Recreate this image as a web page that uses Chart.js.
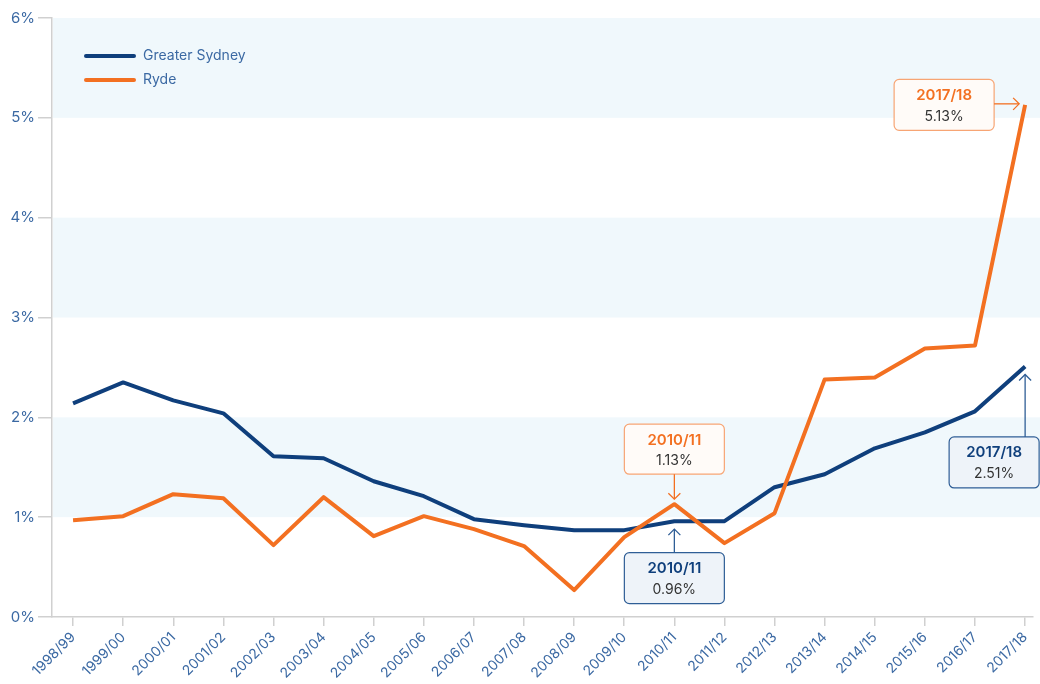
<!DOCTYPE html>
<html lang="en">
<head>
  <meta charset="UTF-8">
  <title>Greater Sydney vs Ryde</title>
  <script src="https://cdn.jsdelivr.net/npm/chart.js"></script>
  <style>
    body {
      margin: 0;
      background: #fff;
    }
    #wrap {
      width: 1040px;
      height: 684px;
    }
  </style>
</head>
<body>
  <div id="wrap"><canvas id="growthChart"></canvas></div>

  <script>
    const years = ['1998/99', '1999/00', '2000/01', '2001/02', '2002/03', '2003/04', '2004/05',
      '2005/06', '2006/07', '2007/08', '2008/09', '2009/10', '2010/11', '2011/12', '2012/13',
      '2013/14', '2014/15', '2015/16', '2016/17', '2017/18'];
    const greaterSydney = [2.14, 2.35, 2.17, 2.04, 1.61, 1.59, 1.36, 1.21, 0.98, 0.92,
      0.87, 0.87, 0.96, 0.96, 1.30, 1.43, 1.69, 1.85, 2.06, 2.51];
    const ryde = [0.97, 1.01, 1.23, 1.19, 0.72, 1.20, 0.81, 1.01, 0.88, 0.71,
      0.27, 0.80, 1.13, 0.74, 1.04, 2.38, 2.40, 2.69, 2.72, 5.13];
    const yTicks = [0, 1, 2, 3, 4, 5, 6];

    const BLUE = '#0f3f7c';
    const ORANGE = '#f37021';
    const LABEL = '#3b69a3';
    const FONT = 'Inter, "Open Sans", sans-serif';

    // callouts: which series, which year index, where the box sits relative to the point
    const callouts = [
      { series: 1, idx: 12, dx: 0, dy: -55, w: 100, h: 50, arrow: 'down' },
      { series: 0, idx: 12, dx: 0, dy: 57, w: 100, h: 51, arrow: 'up' },
      { series: 1, idx: 19, dx: -81, dy: 0, w: 100, h: 51, arrow: 'right' },
      { series: 0, idx: 19, dx: -31, dy: 96, w: 90, h: 51, arrow: 'up' }
    ];

    const toPoints = arr => arr.map((v, i) => ({ x: i, y: v }));

    const bands = {
      id: 'bands',
      beforeDraw(chart) {
        const { ctx, chartArea, scales } = chart;
        ctx.save();
        ctx.fillStyle = '#f0f8fc';
        [[5, 6], [3, 4], [1, 2]].forEach(([a, b]) => {
          const top = scales.y.getPixelForValue(b);
          const bot = scales.y.getPixelForValue(a);
          ctx.fillRect(chartArea.left + 1, top, chart.width - chartArea.left, bot - top);
        });
        ctx.restore();
      }
    };

    function arrowHead(ctx, x, y, dir) {
      const s = 6;
      ctx.beginPath();
      if (dir === 'down') { ctx.moveTo(x - s, y - s); ctx.lineTo(x, y); ctx.lineTo(x + s, y - s); }
      if (dir === 'up') { ctx.moveTo(x - s, y + s); ctx.lineTo(x, y); ctx.lineTo(x + s, y + s); }
      if (dir === 'right') { ctx.moveTo(x - s, y - s); ctx.lineTo(x, y); ctx.lineTo(x - s, y + s); }
      ctx.stroke();
    }

    function roundRect(ctx, x, y, w, h, r) {
      ctx.beginPath();
      ctx.moveTo(x + r, y);
      ctx.arcTo(x + w, y, x + w, y + h, r);
      ctx.arcTo(x + w, y + h, x, y + h, r);
      ctx.arcTo(x, y + h, x, y, r);
      ctx.arcTo(x, y, x + w, y, r);
      ctx.closePath();
    }

    const extras = {
      id: 'extras',
      afterDraw(chart) {
        const { ctx, scales } = chart;
        ctx.save();

        // legend
        ctx.lineCap = 'round';
        ctx.lineWidth = 4;
        ctx.font = '14px ' + FONT;
        ctx.textBaseline = 'middle';
        [[BLUE, 'Greater Sydney', 56], [ORANGE, 'Ryde', 80]].forEach(([c, t, y]) => {
          ctx.strokeStyle = c;
          ctx.beginPath();
          ctx.moveTo(86, y);
          ctx.lineTo(134, y);
          ctx.stroke();
          ctx.fillStyle = LABEL;
          ctx.fillText(t, 143, y);
        });

        // callouts
        ctx.lineCap = 'butt';
        callouts.forEach(c => {
          const data = c.series === 0 ? greaterSydney : ryde;
          const col = c.series === 0 ? BLUE : ORANGE;
          const px = scales.x.getPixelForValue(c.idx);
          const py = scales.y.getPixelForValue(data[c.idx]);
          const cx = px + c.dx;
          const cy = py + c.dy;
          const bx = cx - c.w / 2;
          const by = cy - c.h / 2;

          ctx.lineWidth = 1.2;
          ctx.strokeStyle = c.series === 0 ? '#2f5e96' : '#f7a574';
          ctx.fillStyle = c.series === 0 ? '#eef3f9' : '#fffbf8';
          roundRect(ctx, bx, by, c.w, c.h, 5);
          ctx.fill();
          ctx.stroke();

          ctx.textAlign = 'center';
          ctx.fillStyle = col;
          ctx.font = '600 15px ' + FONT;
          ctx.fillText(years[c.idx], cx, by + 16);
          ctx.fillStyle = '#333';
          ctx.font = '14px ' + FONT;
          ctx.fillText(data[c.idx].toFixed(2) + '%', cx, by + 37);

          ctx.strokeStyle = c.series === 0 ? '#2f5e96' : ORANGE;
          ctx.lineWidth = 1.3;
          ctx.beginPath();
          if (c.arrow === 'down') {
            ctx.moveTo(px, by + c.h); ctx.lineTo(px, py - 5); ctx.stroke();
            arrowHead(ctx, px, py - 5, 'down');
          } else if (c.arrow === 'up') {
            ctx.moveTo(px, by); ctx.lineTo(px, py + 8); ctx.stroke();
            arrowHead(ctx, px, py + 8, 'up');
          } else {
            ctx.moveTo(bx + c.w, py - 1); ctx.lineTo(px - 6, py - 1); ctx.stroke();
            arrowHead(ctx, px - 6, py - 1, 'right');
          }
        });
        ctx.restore();
      }
    };

    new Chart(document.getElementById('growthChart'), {
      type: 'line',
      data: {
        datasets: [
          {
            label: 'Greater Sydney',
            data: toPoints(greaterSydney),
            borderColor: BLUE,
            borderWidth: 4,
            pointRadius: 0,
            borderJoinStyle: 'round',
            order: 1
          },
          {
            label: 'Ryde',
            data: toPoints(ryde),
            borderColor: ORANGE,
            borderWidth: 4,
            pointRadius: 0,
            borderJoinStyle: 'round',
            order: 0
          }
        ]
      },
      options: {
        responsive: true,
        maintainAspectRatio: false,
        animation: false,
        layout: { padding: { top: 18, right: 0, left: 0, bottom: 0 } },
        plugins: {
          legend: { display: false },
          tooltip: { enabled: false }
        },
        scales: {
          x: {
            type: 'linear',
            min: -0.42,
            max: 19.16,
            afterFit: s => { s.height = 67; },
            border: { color: '#d0d0d0', width: 1.5 },
            grid: { drawOnChartArea: false, tickLength: 9, color: '#d0d0d0', lineWidth: 1.5 },
            ticks: {
              stepSize: 1,
              includeBounds: false,
              autoSkip: false,
              maxTicksLimit: 40,
              minRotation: 45,
              maxRotation: 45,
              padding: 3,
              color: LABEL,
              font: { family: FONT, size: 14 },
              callback: v => years[v] ?? ''
            }
          },
          y: {
            min: yTicks[0],
            max: yTicks[yTicks.length - 1],
            afterFit: s => { s.width = 52; },
            border: { color: '#d0d0d0', width: 1.5 },
            grid: { drawOnChartArea: false, tickLength: 14, color: '#d0d0d0', lineWidth: 1.5 },
            afterBuildTicks: s => { s.ticks = yTicks.map(v => ({ value: v })); },
            ticks: {
              padding: 3,
              color: LABEL,
              font: { family: FONT, size: 15 },
              callback: v => v + '%'
            }
          }
        }
      },
      plugins: [bands, extras]
    });
  </script>
</body>
</html>
